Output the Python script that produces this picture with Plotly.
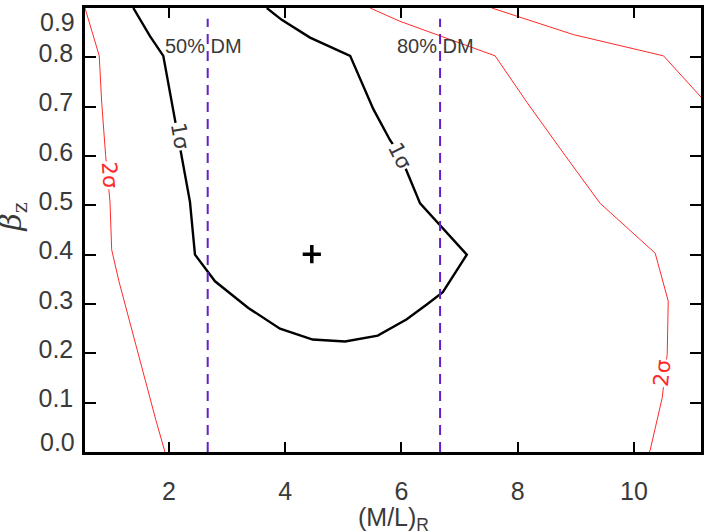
import plotly.graph_objects as go

# ---- data ----
sig1_x = [1.386, 1.673, 1.902, 2.103, 2.189, 2.361, 2.447, 2.792, 3.365, 3.910, 4.473,
          5.029, 5.592, 6.091, 6.435, 6.711, 7.124, 6.320, 6.119, 5.976, 5.804, 5.516,
          5.117, 4.427, 3.940, 3.682]
sig1_y = [0.900, 0.843, 0.803, 0.675, 0.622, 0.507, 0.400, 0.346, 0.292, 0.250, 0.228,
          0.224, 0.236, 0.269, 0.299, 0.324, 0.400, 0.504, 0.561, 0.602, 0.632, 0.695,
          0.803, 0.840, 0.876, 0.900]

sig2a_x = [0.555, 0.800, 0.842, 0.910, 0.985, 1.014, 1.139, 1.501, 1.776, 1.931]
sig2a_y = [0.900, 0.803, 0.709, 0.601, 0.507, 0.410, 0.346, 0.185, 0.064, 0.000]

sig2b_x = [5.460, 5.975, 7.611, 8.157, 8.816, 9.418, 10.365, 10.589, 10.572, 10.486, 10.279, 10.262]
sig2b_y = [0.900, 0.873, 0.803, 0.709, 0.601, 0.504, 0.403, 0.306, 0.199, 0.110, 0.004, 0.000]

sig2c_x = [7.554, 8.959, 10.508, 11.157]
sig2c_y = [0.900, 0.846, 0.803, 0.719]

dm_x = [2.666, 6.664]
dm_labels = ["50% DM", "80% DM"]
best_x = [4.457]
best_y = [0.401]

xtick_vals = [2, 4, 6, 8, 10]
ytick_vals = [0.0, 0.1, 0.2, 0.3, 0.4, 0.5, 0.6, 0.7, 0.8, 0.9]
ytick_text = ["", "0.1", "0.2", "0.3", "0.4", "0.5", "0.6", "0.7", "0.8", ""]

FONT = "Liberation Sans, Arial, sans-serif"
GRAY = "#3a3a3a"
RED = "#ff2a2a"
PURPLE = "#6420c8"

fig = go.Figure()
for xs, ys in [(sig2a_x, sig2a_y), (sig2b_x, sig2b_y), (sig2c_x, sig2c_y)]:
    fig.add_trace(go.Scatter(x=xs, y=ys, mode="lines", line=dict(color=RED, width=1),
                             hoverinfo="skip", showlegend=False))
fig.add_trace(go.Scatter(x=sig1_x, y=sig1_y, mode="lines", line=dict(color="black", width=2.4),
                         hoverinfo="skip", showlegend=False))
for xv in dm_x:
    fig.add_trace(go.Scatter(x=[xv, xv], y=[0.0, 0.878], mode="lines",
                             line=dict(color=PURPLE, width=2, dash="10px,7px"),
                             hoverinfo="skip", showlegend=False))
fig.add_trace(go.Scatter(x=best_x, y=best_y, mode="markers",
                         marker=dict(symbol="cross-thin", size=13,
                                     line=dict(color="black", width=3.5)),
                         hoverinfo="skip", showlegend=False))

ann = []
for xv, lab in zip(dm_x, dm_labels):
    ann.append(dict(x=xv - 0.08, y=0.823, xref="x", yref="y", text=lab, showarrow=False,
                    font=dict(family=FONT, size=20, color=GRAY)))
# contour labels
clabels = [(2.19, 0.641, "1σ", "black", 80), (5.977, 0.601, "1σ", "black", 63),
           (0.985, 0.560, "2σ", RED, 86), (10.48, 0.161, "2σ", RED, -84)]
for x, y, t, c, ang in clabels:
    ann.append(dict(x=x, y=y, xref="x", yref="y", text=t, showarrow=False, textangle=ang,
                    bgcolor="white", borderpad=0,
                    font=dict(family="DejaVu Sans, sans-serif", size=21,
                              color=(GRAY if c == "black" else c))))
# end y tick labels (shifted inward like the original)
ann.append(dict(x=-0.0135, y=0.969, xref="paper", yref="paper", text="0.9", showarrow=False,
                xanchor="right", yanchor="middle", font=dict(family=FONT, size=25, color=GRAY)))
ann.append(dict(x=-0.0135, y=0.0225, xref="paper", yref="paper", text="0.0", showarrow=False,
                xanchor="right", yanchor="middle", font=dict(family=FONT, size=25, color=GRAY)))
# axis titles
ann.append(dict(x=0.5, y=-0.15, xref="paper", yref="paper", text="(M/L)<sub>R</sub>",
                showarrow=False, yanchor="middle",
                font=dict(family=FONT, size=25, color=GRAY)))
ann.append(dict(x=-0.152, y=0.53, xref="paper", yref="paper", text="<i>β</i><sub>z</sub>",
                showarrow=False, textangle=-90,
                font=dict(family="DejaVu Serif, serif", size=30, color=GRAY)))

fig.update_layout(
    width=709, height=532,
    margin=dict(l=85, r=8, t=5, b=80),
    plot_bgcolor="white", paper_bgcolor="white",
    annotations=ann,
    xaxis=dict(range=[0.555, 11.153], tickvals=xtick_vals, ticks="inside", ticklen=10,
               tickwidth=2, tickcolor="black", showline=True, linewidth=2.5, linecolor="black",
               mirror="ticks", showgrid=False, zeroline=False, ticklabelstandoff=15,
               tickfont=dict(family=FONT, size=25, color=GRAY)),
    yaxis=dict(range=[0, 0.9], tickvals=ytick_vals, ticktext=ytick_text, ticks="inside",
               ticklen=11, tickwidth=2, tickcolor="black", showline=True, linewidth=2.5,
               linecolor="black", mirror="ticks", showgrid=False, zeroline=False,
               ticklabelshift=-4, ticklabelstandoff=4,
               tickfont=dict(family=FONT, size=25, color=GRAY)),
)
fig.write_html("out.html")
